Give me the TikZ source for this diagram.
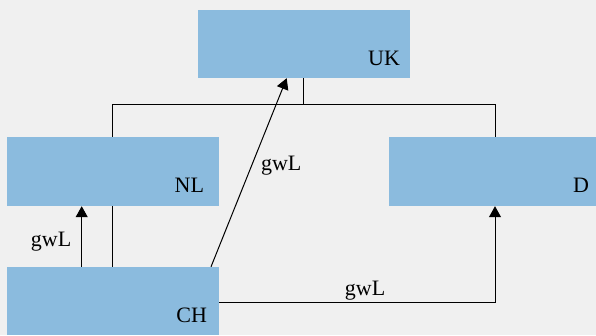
\documentclass[tikz,border=0pt]{standalone}
\usepackage{fontspec}
\setmainfont{Liberation Serif}
\usetikzlibrary{arrows.meta}
\definecolor{bgcol}{HTML}{F0F0F0}
\definecolor{boxblue}{HTML}{8BBBDE}
\tikzset{
  box/.style={fill=boxblue, minimum width=212pt, minimum height=68pt, inner sep=0pt},
  tag/.style={anchor=base east, inner sep=0pt, font=\fontsize{22}{26}\selectfont},
  link/.style={line width=1pt, draw=black},
  arr/.style={link, -{Triangle[length=11pt, width=12pt]}},
  elabel/.style={inner sep=0pt, font=\fontsize{22}{26}\selectfont},
}
\begin{document}
\begin{tikzpicture}[x=1pt, y=-1pt]
  \clip (0,0) rectangle (596,335);
  \fill[bgcol] (0,0) rectangle (596,335);

  % country boxes, name at the lower right corner
  \node[box, label={[tag, xshift=-10pt, yshift=13pt]south east:UK}] (uk) at (304,44) {};
  \node[box, minimum height=69pt, label={[tag, xshift=-15pt, yshift=13.7pt]south east:NL}] (nl) at (113,171.5) {};
  \node[box, minimum height=69pt, label={[tag, xshift=-12pt, yshift=14pt]south east:D}] (d) at (495,171.5) {};
  \node[box, label={[tag, xshift=-12pt, yshift=13pt]south east:CH}] (ch) at (113,301) {};

  % hierarchy lines
  \coordinate (bus) at (303.7,104);
  \draw[link] ([xshift=-0.3pt]uk.south) -- (bus);
  \draw[link] (bus) -| ([xshift=-1pt]nl.north);
  \draw[link] (bus) -| (d.north);
  \draw[link] ([xshift=-1pt]ch.north) -- ([xshift=-1pt]nl.south);

  % gwL relations
  \draw[arr] ([xshift=-31.3pt]ch.north) -- ([xshift=-31.3pt]nl.south)
    node[elabel, midway, anchor=base east, xshift=-10pt, yshift=-9.5pt] {gwL};
  \draw[arr] ([xshift=98pt]ch.north) -- ([xshift=-17.3pt]uk.south)
    node[elabel, pos=0.51, anchor=base west, xshift=11pt] {gwL};
  \draw[arr] ([yshift=-1.3pt]ch.east) -| (d.south)
    node[elabel, pos=0.2645, anchor=base, yshift=7pt] {gwL};
\end{tikzpicture}
\end{document}
